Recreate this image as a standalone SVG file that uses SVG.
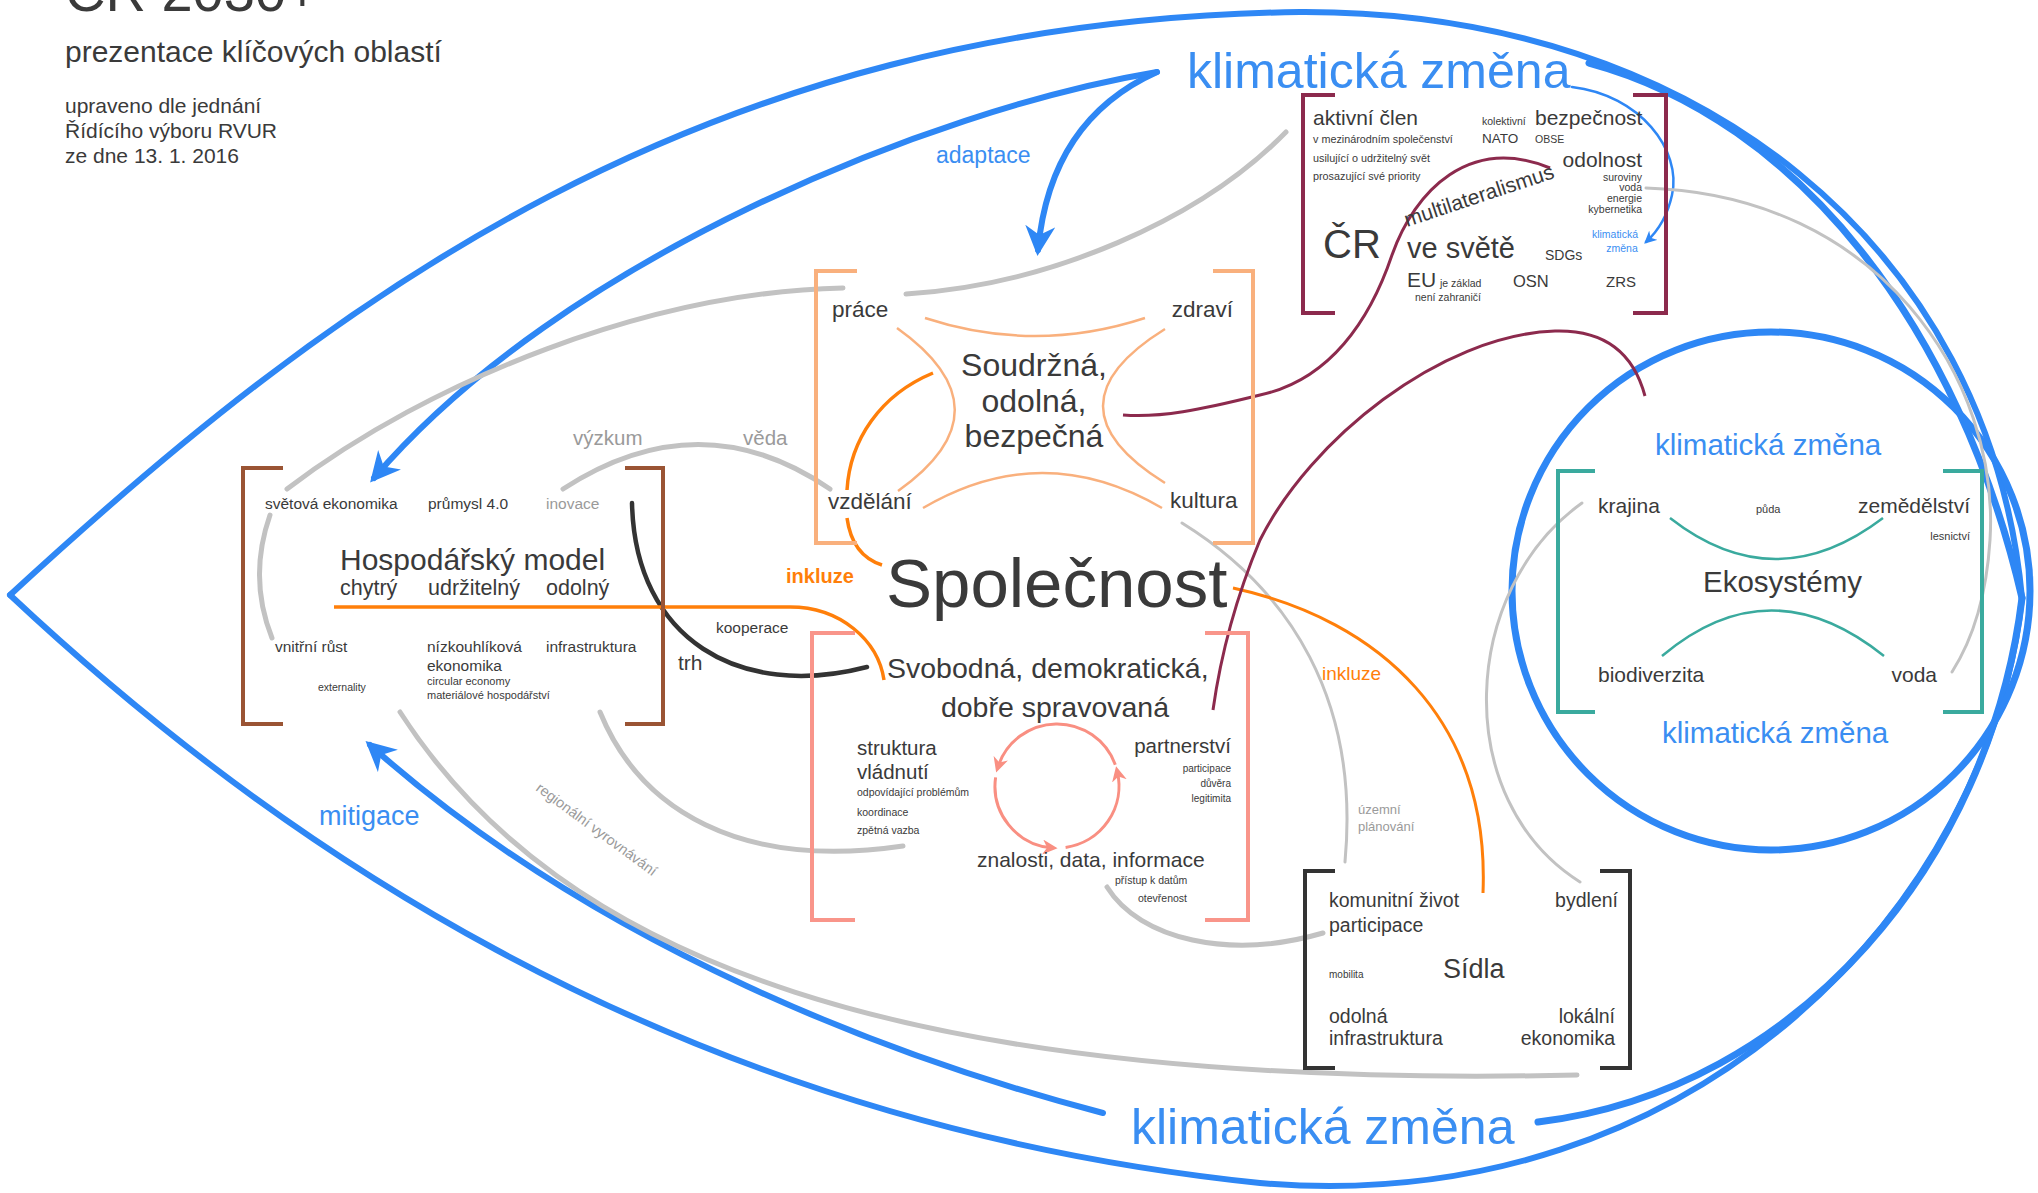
<svg xmlns="http://www.w3.org/2000/svg" width="2038" height="1193" viewBox="0 0 2038 1193">
<style>
text{font-family:"Liberation Sans",Arial,sans-serif;fill:#3a3a3a}
.g{fill:#9a9a9a}
.b{fill:#3a8ef2}
.o{fill:#ff7f0a}
.e{text-anchor:end}
.m{text-anchor:middle}
.bl{fill:none;stroke:#2e87f5;stroke-linecap:round}
.gl{fill:none;stroke:#c2c2c2;stroke-linecap:round}
.br{fill:none;stroke-width:4}
</style>
<defs>
<marker id="ab" viewBox="0 0 10 10" refX="8" refY="5" markerWidth="5" markerHeight="5" orient="auto" markerUnits="strokeWidth">
<path d="M0,0 L10,5 L0,10 L3,5 z" fill="#2e87f5"/>
</marker>
<marker id="abs" viewBox="0 0 10 10" refX="8" refY="5" markerWidth="5" markerHeight="5" orient="auto" markerUnits="strokeWidth">
<path d="M0,0 L10,5 L0,10 L3,5 z" fill="#2e87f5"/>
</marker>
<marker id="as" viewBox="0 0 10 10" refX="6" refY="5" markerWidth="5" markerHeight="5" orient="auto" markerUnits="strokeWidth">
<path d="M0,0 L10,5 L0,10 L3,5 z" fill="#f98f82"/>
</marker>
</defs>

<g id="title">
<text x="65" y="11" font-size="56">ČR 2030+</text>
<text x="65" y="62" font-size="30">prezentace klíčových oblastí</text>
<text x="65" y="113" font-size="21">upraveno dle jednání</text>
<text x="65" y="138" font-size="21">Řídícího výboru RVUR</text>
<text x="65" y="163" font-size="21">ze dne 13. 1. 2016</text>
</g>

<g id="connectors">
<!-- outer lens -->
<path class="bl" stroke-width="6" d="M10,595 C330,300 700,20 1300,12 C1700,10 1990,250 2022,598"/>
<path class="bl" stroke-width="6" d="M10,595 C250,820 650,1120 1260,1183 C1700,1220 1990,900 2022,598"/>
<path class="bl" stroke-width="7" d="M1589,63 C1800,120 1960,330 2022,598"/>
<path class="bl" stroke-width="7" d="M1538,1122 C1800,1090 1990,860 2022,598"/>
<!-- adaptace / mitigace -->
<path class="bl" stroke-width="6" marker-end="url(#ab)" d="M1157,72 Q1050,120 1038,250"/>
<path class="bl" stroke-width="6" marker-end="url(#ab)" d="M1157,72 C930,110 560,260 374,478"/>
<path class="bl" stroke-width="6" marker-end="url(#ab)" d="M1103,1113 C900,1060 600,950 370,745"/>
<!-- thin blue arrow in ČR box -->
<path class="bl" stroke-width="2.5" marker-end="url(#abs)" d="M1572,87 C1640,95 1682,150 1672,195 C1667,218 1657,232 1646,242"/>
<!-- Ekosystémy circle -->
<circle cx="1771" cy="591" r="259" fill="none" stroke="#2e87f5" stroke-width="7"/>
<!-- gray lines -->
<path class="gl" stroke-width="5" d="M843,288 C650,292 430,380 287,489"/>
<path class="gl" stroke-width="5" d="M270,515 Q248,578 272,638"/>
<path class="gl" stroke-width="5" d="M906,294 C1050,285 1200,220 1286,132"/>
<path class="gl" stroke-width="5" d="M563,489 Q700,400 830,489"/>
<path class="gl" stroke-width="5" d="M400,712 C560,960 900,1090 1577,1075"/>
<path class="gl" stroke-width="5" d="M600,712 C640,810 740,870 903,846"/>
<path class="gl" stroke-width="5" d="M1107,887 C1140,940 1230,960 1323,933"/>
<path class="gl" stroke-width="3" d="M1182,523 C1290,590 1360,700 1345,862"/>
<path class="gl" stroke-width="3" d="M1582,503 C1460,590 1450,800 1580,882"/>
<path class="gl" stroke-width="3" d="M1646,188 C1880,195 2000,380 1990,540 Q1985,620 1952,672"/>
<!-- black -->
<path fill="none" stroke="#333" stroke-width="4.5" stroke-linecap="round" d="M632,503 C635,640 740,700 867,667"/>
<!-- orange -->
<path fill="none" stroke="#ff7f0a" stroke-width="3.5" d="M334,607 L790,607 C840,607 878,640 884,680"/>
<path fill="none" stroke="#ff7f0a" stroke-width="3.5" d="M933,373 C880,395 850,440 847,490"/>
<path fill="none" stroke="#ff7f0a" stroke-width="3.5" d="M847,518 C850,540 860,558 882,565"/>
<path fill="none" stroke="#ff7f0a" stroke-width="3" d="M1233,588 C1380,620 1490,720 1483,893"/>
<!-- maroon -->
<path fill="none" stroke="#8c2a4d" stroke-width="3" d="M1550,168 C1470,135 1415,190 1392,255 C1370,320 1330,380 1260,395 C1200,410 1160,418 1123,415"/>
<path fill="none" stroke="#8c2a4d" stroke-width="3" d="M1645,396 C1630,340 1590,330 1555,331 C1440,335 1310,440 1260,540 C1235,600 1220,660 1213,710"/>
</g>

<g id="labels">
<text x="936" y="163" font-size="23" class="b">adaptace</text>
<text x="319" y="825" font-size="27" class="b">mitigace</text>
<text x="1187" y="88" font-size="50" class="b">klimatická změna</text>
<text x="1131" y="1144" font-size="50" class="b">klimatická změna</text>
<text x="786" y="583" font-size="20" font-weight="bold" class="o">inkluze</text>
<text x="1322" y="680" font-size="19" class="o">inkluze</text>
<text x="573" y="445" font-size="20.5" class="g">výzkum</text>
<text x="743" y="445" font-size="20.5" class="g">věda</text>
<text x="716" y="633" font-size="15.5">kooperace</text>
<text x="678" y="670" font-size="21">trh</text>
<text x="1358" y="814" font-size="13" class="g">územní</text>
<text x="1358" y="831" font-size="13" class="g">plánování</text>
<text font-size="14.5" class="g" transform="translate(535,790) rotate(36.4)">regionální vyrovnávání</text>
</g>

<g id="spolecnost">
<text x="886" y="607" font-size="69">Společnost</text>
</g>

<g id="hospodarsky">
<path class="br" stroke="#9a5434" d="M283,468 H243 V724 H283 M625,468 H663 V724 H625"/>
<text x="265" y="509" font-size="15.5">světová ekonomika</text>
<text x="428" y="509" font-size="15.5">průmysl 4.0</text>
<text x="546" y="509" font-size="15.5" class="g">inovace</text>
<text x="340" y="570" font-size="30">Hospodářský model</text>
<text x="340" y="595" font-size="21.5">chytrý</text>
<text x="428" y="595" font-size="21.5">udržitelný</text>
<text x="546" y="595" font-size="21.5">odolný</text>
<text x="275" y="652" font-size="15.5">vnitřní růst</text>
<text x="427" y="652" font-size="15.5">nízkouhlíková</text>
<text x="427" y="671" font-size="15.5">ekonomika</text>
<text x="546" y="652" font-size="15.5">infrastruktura</text>
<text x="318" y="691" font-size="10.5">externality</text>
<text x="427" y="685" font-size="11">circular economy</text>
<text x="427" y="699" font-size="11">materiálové hospodářství</text>
</g>

<g id="soudrzna">
<path class="br" stroke="#f9b07d" d="M857,271 H816 V543 H857 M1213,271 H1253 V543 H1213"/>
<g fill="none" stroke="#f9b07d" stroke-width="2.5">
<path d="M925,318 Q1035,354 1145,318"/>
<path d="M923,508 Q1042,438 1162,508"/>
<path d="M897,328 Q1012,410 898,491"/>
<path d="M1165,329 Q1041,406 1165,483"/>
</g>
<text x="832" y="317" font-size="22.5">práce</text>
<text x="1233" y="317" font-size="22.5" class="e">zdraví</text>
<text x="828" y="509" font-size="22.5">vzdělání</text>
<text x="1170" y="508" font-size="22.5">kultura</text>
<text x="1034" y="376" font-size="32" class="m">Soudržná,</text>
<text x="1034" y="412" font-size="32" class="m">odolná,</text>
<text x="1034" y="447" font-size="32" class="m">bezpečná</text>
</g>

<g id="svobodna">
<path class="br" stroke="#f9958a" d="M855,633 H812 V920 H855 M1205,633 H1248 V920 H1205"/>
<g fill="none" stroke="#f98f82" stroke-width="3">
<path marker-end="url(#as)" d="M1115.3,764.8 A62,62 0 0 0 998,766.8"/>
<path marker-end="url(#as)" d="M995.6,777.4 A62,62 0 0 0 1051.6,847.8"/>
<path marker-end="url(#as)" d="M1065.6,847.4 A62,62 0 0 0 1117.4,772.1"/>
</g>
<text x="887" y="678" font-size="28.5">Svobodná, demokratická,</text>
<text x="1055" y="717" font-size="28.5" class="m">dobře spravovaná</text>
<text x="857" y="755" font-size="20.5">struktura</text>
<text x="857" y="779" font-size="20.5">vládnutí</text>
<text x="857" y="796" font-size="10.5">odpovídající problémům</text>
<text x="857" y="816" font-size="10.5">koordinace</text>
<text x="857" y="834" font-size="10.5">zpětná vazba</text>
<text x="1231" y="753" font-size="20.5" class="e">partnerství</text>
<text x="1231" y="772" font-size="10" class="e">participace</text>
<text x="1231" y="787" font-size="10" class="e">důvěra</text>
<text x="1231" y="802" font-size="10" class="e">legitimita</text>
<text x="977" y="867" font-size="21">znalosti, data, informace</text>
<text x="1115" y="884" font-size="10.5">přístup k datům</text>
<text x="1138" y="902" font-size="10.5">otevřenost</text>
</g>

<g id="cr-ve-svete">
<path class="br" stroke="#8c2a4d" stroke-width="3.5" d="M1335,95 H1303 V313 H1335 M1633,95 H1666 V313 H1633"/>
<text x="1313" y="125" font-size="21">aktivní člen</text>
<text x="1313" y="143" font-size="10.8">v mezinárodním společenství</text>
<text x="1313" y="162" font-size="10.8">usilující o udržitelný svět</text>
<text x="1313" y="180" font-size="10.8">prosazující své priority</text>
<text x="1482" y="125" font-size="10.5">kolektivní</text>
<text x="1535" y="125" font-size="21">bezpečnost</text>
<text x="1482" y="143" font-size="13.5">NATO</text>
<text x="1535" y="143" font-size="10.5">OBSE</text>
<text x="1642" y="167" font-size="21" class="e">odolnost</text>
<text x="1642" y="181" font-size="10.5" class="e">suroviny</text>
<text x="1642" y="191" font-size="10.5" class="e">voda</text>
<text x="1642" y="202" font-size="10.5" class="e">energie</text>
<text x="1642" y="213" font-size="10.5" class="e">kybernetika</text>
<text x="1615" y="238" font-size="10.5" class="b m">klimatická</text>
<text x="1622" y="252" font-size="10.5" class="b m">změna</text>
<text x="1323" y="258" font-size="40">ČR</text>
<text font-size="21" transform="translate(1407,227) rotate(-18.4)">multilateralismus</text>
<text x="1407" y="258" font-size="29">ve světě</text>
<text x="1545" y="260" font-size="14">SDGs</text>
<text x="1407" y="287" font-size="21">EU</text>
<text x="1440" y="287" font-size="10.5">je základ</text>
<text x="1415" y="301" font-size="10.5">není zahraničí</text>
<text x="1513" y="287" font-size="16.5">OSN</text>
<text x="1606" y="287" font-size="15">ZRS</text>
</g>

<g id="ekosystemy">
<path class="br" stroke="#3aaa9e" stroke-width="3.5" d="M1595,471 H1558 V712 H1595 M1943,471 H1982 V712 H1943"/>
<g fill="none" stroke="#3aaa9e" stroke-width="2.5">
<path d="M1670,518 Q1775,600 1883,518"/>
<path d="M1662,656 Q1770,565 1884,656"/>
</g>
<text x="1655" y="455" font-size="29.5" class="b">klimatická změna</text>
<text x="1662" y="743" font-size="29.5" class="b">klimatická změna</text>
<text x="1598" y="513" font-size="21">krajina</text>
<text x="1756" y="513" font-size="11">půda</text>
<text x="1970" y="513" font-size="21" class="e">zemědělství</text>
<text x="1970" y="540" font-size="11" class="e">lesnictví</text>
<text x="1703" y="592" font-size="29.5">Ekosystémy</text>
<text x="1598" y="682" font-size="21">biodiverzita</text>
<text x="1937" y="682" font-size="21" class="e">voda</text>
</g>

<g id="sidla">
<path class="br" stroke="#333" stroke-width="3.5" d="M1335,871 H1305 V1068 H1335 M1600,871 H1630 V1068 H1600"/>
<text x="1329" y="907" font-size="19.5">komunitní život</text>
<text x="1329" y="932" font-size="19.5">participace</text>
<text x="1618" y="907" font-size="19.5" class="e">bydlení</text>
<text x="1329" y="978" font-size="10">mobilita</text>
<text x="1443" y="978" font-size="27">Sídla</text>
<text x="1329" y="1023" font-size="19.5">odolná</text>
<text x="1329" y="1045" font-size="19.5">infrastruktura</text>
<text x="1615" y="1023" font-size="19.5" class="e">lokální</text>
<text x="1615" y="1045" font-size="19.5" class="e">ekonomika</text>
</g>
</svg>
